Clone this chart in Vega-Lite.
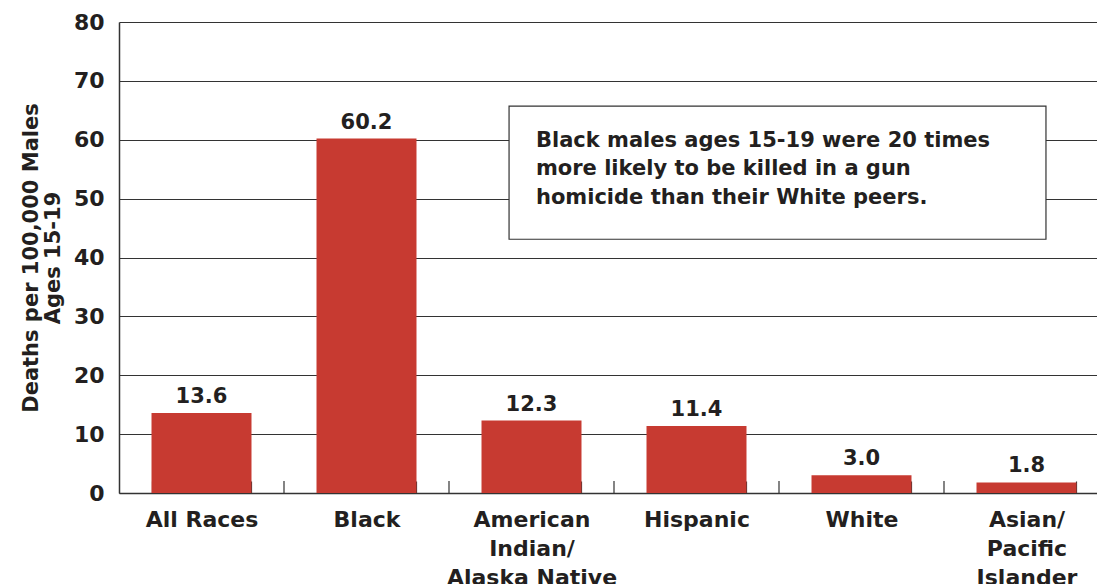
{
  "$schema": "https://vega.github.io/schema/vega-lite/v6.json",
  "autosize": {"type": "none"},
  "padding": {"left": 119, "top": 22, "right": 0, "bottom": 91},
  "width": 990,
  "height": 471,
  "background": "white",
  "config": {
    "font": "DejaVu Sans",
    "view": {"stroke": null}
  },
  "datasets": {
    "bars": [
      {"group": "All Races", "rate": 13.6},
      {"group": "Black", "rate": 60.2},
      {"group": "American|Indian/|Alaska Native", "rate": 12.3},
      {"group": "Hispanic", "rate": 11.4},
      {"group": "White", "rate": 3.0},
      {"group": "Asian/|Pacific|Islander", "rate": 1.8}
    ],
    "note": [
      {"x1": 2.364, "x2": 5.618, "y1": 43.1, "y2": 65.7, "tx": 2.527, "ty": 59.8,
       "text": "Black males ages 15-19 were 20 times|more likely to be killed in a gun|homicide than their White peers."}
    ],
    "ticks": [
      {"pos": 1, "lo": 0, "hi": 2.04},
      {"pos": 2, "lo": 0, "hi": 2.04},
      {"pos": 3, "lo": 0, "hi": 2.04},
      {"pos": 4, "lo": 0, "hi": 2.04},
      {"pos": 5, "lo": 0, "hi": 2.04}
    ]
  },
  "layer": [
    {
      "data": {"name": "bars"},
      "encoding": {
        "x": {
          "field": "group", "type": "nominal", "sort": null,
          "scale": {"paddingInner": 0.394, "paddingOuter": 0.197},
          "axis": {
            "orient": "bottom",
            "title": null, "labelAngle": 0, "labelExpr": "split(datum.label, '|')",
            "labelFont": "DejaVu Sans", "labelFontWeight": "bold", "labelFontSize": 22,
            "labelColor": "#231F20", "labelLineHeight": 29, "labelPadding": 28,
            "labelBaseline": "top",
            "ticks": true, "tickBand": "extent", "tickSize": -12, "tickColor": "#333333", "tickWidth": 1.2,
            "domainColor": "#333333", "domainWidth": 1.5, "grid": false
          }
        },
        "y": {
          "field": "rate", "type": "quantitative",
          "scale": {"domain": [0, 80]},
          "axis": {
            "values": [0, 10, 20, 30, 40, 50, 60, 70, 80],
            "title": ["Deaths per 100,000 Males", "Ages 15-19"],
            "titleFont": "DejaVu Sans", "titleFontWeight": "bold", "titleFontSize": 21,
            "titleColor": "#231F20", "titlePadding": 10, "titleLineHeight": 22,
            "labelFont": "DejaVu Sans", "labelFontWeight": "bold", "labelFontSize": 22,
            "labelColor": "#231F20", "labelPadding": 15,
            "ticks": false, "grid": true, "gridColor": "#333333", "gridWidth": 1,
            "domainColor": "#333333", "domainWidth": 1.5
          }
        }
      },
      "layer": [
        {"mark": {"type": "bar", "color": "#C73A31"}},
        {
          "mark": {"type": "text", "baseline": "alphabetic", "dy": -10, "font": "DejaVu Sans", "fontWeight": "bold", "fontSize": 21, "color": "#231F20"},
          "encoding": {
            "text": {"field": "rate", "type": "quantitative", "format": ".1f"}
          }
        }
      ]
    },
    {
      "layer": [
        {
          "data": {"name": "ticks"},
          "mark": {"type": "rule", "color": "#333333", "strokeWidth": 1.2},
          "encoding": {
            "x": {"field": "pos", "type": "quantitative", "scale": {"domain": [0, 6]}, "axis": null},
            "y": {"field": "lo", "type": "quantitative"},
            "y2": {"field": "hi"}
          }
        },
        {
          "data": {"name": "note"},
          "mark": {"type": "rect", "fill": "white", "stroke": "#333333", "strokeWidth": 1.2},
          "encoding": {
            "x": {"field": "x1", "type": "quantitative", "scale": {"domain": [0, 6]}, "axis": null},
            "x2": {"field": "x2"},
            "y": {"field": "y1", "type": "quantitative"},
            "y2": {"field": "y2"}
          }
        },
        {
          "data": {"name": "note"},
          "mark": {"type": "text", "align": "left", "baseline": "middle", "lineBreak": "|", "lineHeight": 28.5, "font": "DejaVu Sans", "fontWeight": "bold", "fontSize": 21, "color": "#231F20"},
          "encoding": {
            "x": {"field": "tx", "type": "quantitative", "scale": {"domain": [0, 6]}, "axis": null},
            "y": {"field": "ty", "type": "quantitative"},
            "text": {"field": "text"}
          }
        }
      ]
    }
  ],
  "resolve": {"scale": {"x": "independent"}}
}
